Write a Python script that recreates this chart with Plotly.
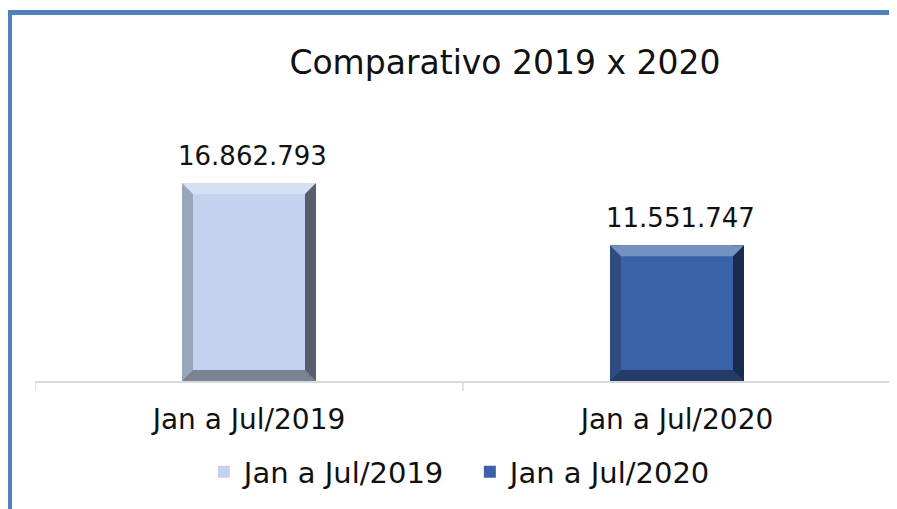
import plotly.graph_objects as go

categories = ["Jan a Jul/2019", "Jan a Jul/2020"]
values = [16862793, 11551747]
value_labels = ["16.862.793", "11.551.747"]
series_names = ["Jan a Jul/2019", "Jan a Jul/2020"]
colors = ["#C3D3EF", "#3A62A7"]

FONT = "DejaVu Sans"
BAR_W = 0.313
HALF_PX = 67
BEV = 11


def mix(hexc, target, a):
    h = hexc.lstrip("#")
    r, g, b = (int(h[k:k + 2], 16) for k in (0, 2, 4))
    t = 255 if target == "white" else 0
    return "rgb({},{},{})".format(*(round(c + (t - c) * a) for c in (r, g, b)))


fig = go.Figure()
for i in range(2):
    fig.add_trace(go.Bar(
        x=[i], y=[values[i]], name=series_names[i],
        marker=dict(color=colors[i], line=dict(width=0)),
        width=BAR_W, offset=-BAR_W / 2,
    ))
    fig.add_annotation(x=i, y=values[i], xref="x", yref="y", text=value_labels[i],
                       showarrow=False, yanchor="bottom", yshift=10, xshift=3,
                       font=dict(size=26, color="#111111", family=FONT))
    # bevel: side strips
    for x0, x1, col in [(-HALF_PX, -HALF_PX + BEV, mix(colors[i], "black", 0.22)),
                        (HALF_PX - BEV, HALF_PX, mix(colors[i], "black", 0.55))]:
        fig.add_shape(type="rect", xref="x", yref="y", xsizemode="pixel", xanchor=i,
                      x0=x0, x1=x1, y0=0, y1=values[i],
                      line=dict(width=0), fillcolor=col)
    # top bevel
    fig.add_shape(type="path", xref="x", yref="y", xsizemode="pixel", ysizemode="pixel",
                  xanchor=i, yanchor=values[i],
                  path=f"M {-HALF_PX},0 L {HALF_PX},0 L {HALF_PX-BEV},{-BEV} L {-HALF_PX+BEV},{-BEV} Z",
                  line=dict(width=0), fillcolor=mix(colors[i], "white", 0.3))
    # bottom bevel
    fig.add_shape(type="path", xref="x", yref="y", xsizemode="pixel", ysizemode="pixel",
                  xanchor=i, yanchor=0,
                  path=f"M {-HALF_PX},0 L {HALF_PX},0 L {HALF_PX-BEV},{BEV} L {-HALF_PX+BEV},{BEV} Z",
                  line=dict(width=0), fillcolor=mix(colors[i], "black", 0.38))

fig.update_layout(
    width=889, height=501,
    paper_bgcolor="white", plot_bgcolor="white",
    margin=dict(l=27, r=6, t=122, b=128),
    barmode="overlay",
    title=dict(text="Comparativo 2019 x 2020", x=0.559, xanchor="center",
               y=1 - 54 / 501, yanchor="middle", yref="container",
               font=dict(size=33, color="#111111", family=FONT)),
    xaxis=dict(range=[-0.5, 1.5], tickvals=[0, 1], ticktext=categories,
               showline=True, linecolor="#d9d9d9", linewidth=1.5,
               ticks="", showgrid=False, zeroline=False,
               tickfont=dict(size=28, color="#111111", family=FONT),
               ticklabelstandoff=13),
    yaxis=dict(range=[0, 16862793 * 251 / 198], visible=False, showgrid=False),
    legend=dict(orientation="h", x=0.508, xanchor="center", y=-0.3625, yanchor="middle",
                font=dict(size=29, color="#111111", family=FONT), itemwidth=30,
                entrywidth=221, entrywidthmode="pixels"),
    showlegend=True,
)

for b in [-0.5, 0.5, 1.5]:
    fig.add_shape(type="line", xref="x", yref="paper", ysizemode="pixel", yanchor=0,
                  x0=b, x1=b, y0=0, y1=-10, line=dict(color="#d9d9d9", width=1.5))

fig.add_shape(type="path", xref="paper", yref="paper",
              path="M -0.0298,-1 L -0.0298,1.468 L 1.2,1.468",
              line=dict(color="#4F81BD", width=5))

fig.write_html("out.html")
